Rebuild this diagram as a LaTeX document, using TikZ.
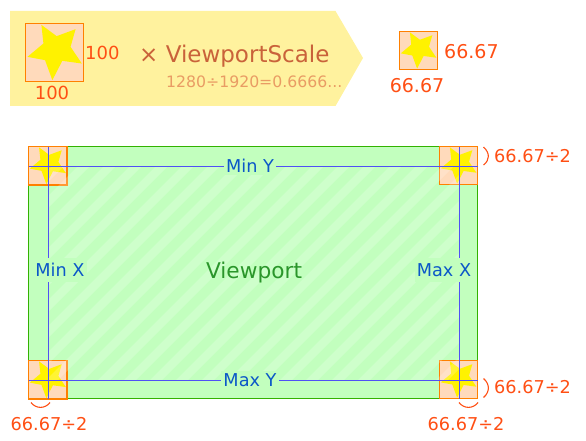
\documentclass[tikz,border=0pt]{standalone}
\usepackage{fontspec}
\setmainfont{DejaVu Sans}
\usetikzlibrary{positioning,calc}

\definecolor{bannerfill}{HTML}{FFF29E}
\definecolor{boxfill}{HTML}{FFDABB}
\definecolor{boxline}{HTML}{FF8000}
\definecolor{sizetext}{HTML}{FF4F14}
\definecolor{scaletext}{HTML}{C9623A}
\definecolor{ratiotext}{HTML}{E99C64}
\definecolor{viewfill}{HTML}{C2FFBE}
\definecolor{viewline}{HTML}{33B200}
\definecolor{guideline}{HTML}{5050F5}
\definecolor{guidetext}{HTML}{0B57C8}
\definecolor{viewtext}{HTML}{2A962A}

% one square with its star, top left corner and side given
\newcommand{\starbox}[4]{
  \fill[boxfill] (#2,#3) rectangle ++(#4,#4);
  \begin{scope}[shift={(#2,#3)}, x=#4pt, y=-#4pt]
    \fill[yellow] (.274,.023) -- (.537,.218) -- (.863,.098) -- (.777,.402) -- (.971,.69)
      -- (.634,.644) -- (.463,.977) -- (.337,.632) -- (.034,.575) -- (.309,.345) -- cycle;
  \end{scope}
  \node[sizebox, minimum size=#4pt] (#1) at ($(#2,#3)+(#4/2,#4/2)$) {};
}

\begin{document}
\begin{tikzpicture}[
    x=1pt, y=-1pt,
    sizebox/.style={draw=boxline, line width=1.2pt, inner sep=0pt, outer sep=0pt},
    sizelabel/.style={text=sizetext, font=\fontsize{19}{19}\selectfont, inner sep=0pt},
    halflabel/.style={text=sizetext, font=\fontsize{17.7}{18}\selectfont, inner sep=0pt},
    guidelabel/.style={text=guidetext, font=\fontsize{17.7}{18}\selectfont, fill=viewfill, inner sep=2pt},
    guide/.style={guideline, line width=1.1pt},
    bracket/.style={sizetext, line width=1.1pt}
]
\useasboundingbox (0,0) rectangle (586,441);

% Scale banner
\fill[bannerfill] (10,11) -- (335.5,11) -- (363,58) -- (335.5,106) -- (10,106) -- cycle;
\starbox{big}{25.5}{23.5}{58}
\node[sizelabel, font=\fontsize{18}{18}\selectfont, anchor=west] (bigh) at (85,52.5) {100};
\node[sizelabel, font=\fontsize{18}{18}\selectfont, anchor=center] (bigw) at (52,92.5) {100};
\node[text=scaletext, font=\fontsize{23}{24}\selectfont, inner sep=0pt, anchor=west] (scale) at (139,56) {× ViewportScale};
\node[text=ratiotext, font=\fontsize{15.7}{16}\selectfont, inner sep=0pt, anchor=west] (ratio) at (166,82) {1280÷1920=0.6666...};

% Scaled square
\starbox{small}{399.5}{31.5}{38}
\node[sizelabel, anchor=west] (smallh) at (444,52) {66.67};
\node[sizelabel, anchor=center] (smallw) at (417,86) {66.67};

% Viewport
\fill[viewfill] (28.5,146.5) rectangle (477.5,398.5);
\draw[viewline, line width=1.2pt] (28.5,146.5) rectangle (477.5,398.5);

\starbox{tl}{28.5}{146.5}{38.5}
\starbox{tr}{439.5}{146.5}{38}
\starbox{bl}{28.5}{360.5}{38.5}
\starbox{br}{439.5}{360.5}{38}

% Stripes
\begin{scope}
\clip (48.5,166.5) rectangle (459.5,380.5);
\foreach \i in {0,26,...,720}
  \fill[white, opacity=.2] (\i,166) -- (\i+12,166) -- (\i+12-230,396) -- (\i-230,396) -- cycle;
\end{scope}

\coordinate (minxtop) at (48.5,146.5);
\coordinate (minxbot) at (48.5,398.5);
\coordinate (maxxtop) at (459.5,146.5);
\coordinate (maxxbot) at (459.5,398.5);
\coordinate (minyl) at (28.5,166.5);
\coordinate (minyr) at (477.5,166.5);
\coordinate (maxyl) at (28.5,380.5);
\coordinate (maxyr) at (477.5,380.5);
\draw[guide] (minxtop) -- (minxbot);
\draw[guide] (maxxtop) -- (maxxbot);
\draw[guide] (minyl) -- (minyr);
\draw[guide] (maxyl) -- (maxyr);

\node[guidelabel] (miny) at (250,166) {Min Y};
\node[guidelabel] (maxy) at (250,380) {Max Y};
\node[guidelabel, inner ysep=5pt] (minx) at (60,270) {Min X};
\node[guidelabel, inner ysep=5pt] (maxx) at (444,270) {Max X};
\node[text=viewtext, font=\fontsize{21.7}{22}\selectfont, inner sep=0pt] (view) at (254,273) {Viewport};

% Brackets and half sizes
\draw[bracket] (483.5,147) .. controls (490,153) and (490,160) .. (483.5,165);
\draw[bracket] (483.5,378.5) .. controls (490,384) and (490,392) .. (483.5,397.5);
\draw[bracket] (31,402.5) .. controls (36,409) and (45,409) .. (50,402.5);
\draw[bracket] (459,402.5) .. controls (464,409) and (473,409) .. (478,402.5);
\node[halflabel, anchor=west] (halftr) at (494,156) {66.67÷2};
\node[halflabel, anchor=west] (halfbr) at (494,387) {66.67÷2};
\node[halflabel] (halfbl) at (49,424) {66.67÷2};
\node[halflabel] (halfbq) at (466,424) {66.67÷2};
\end{tikzpicture}
\end{document}
